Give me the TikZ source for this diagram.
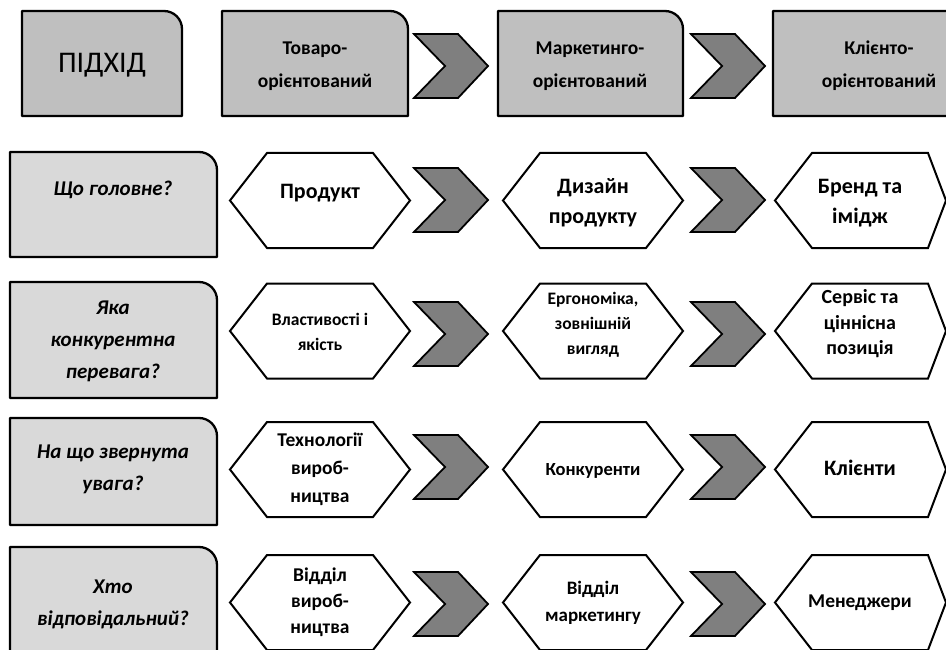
\documentclass[tikz,border=0pt]{standalone}
\usepackage{fontspec}
\setmainfont{Carlito}
\definecolor{headgray}{HTML}{BFBFBF}
\definecolor{askgray}{HTML}{D9D9D9}
\definecolor{chevgray}{HTML}{7F7F7F}

\begin{document}
\begin{tikzpicture}[x=1pt, y=1pt,
    titletxt/.style={font=\fontsize{30}{34}\selectfont},
    headtxt/.style={font=\fontsize{19.5}{33}\selectfont\bfseries, align=center},
    asktxt/.style={font=\fontsize{21}{32}\selectfont\bfseries\itshape, align=center},
    hexbig/.style={font=\fontsize{22}{30}\selectfont\bfseries, align=center},
    hextxt/.style={font=\fontsize{19.5}{28}\selectfont\bfseries, align=center},
    hexsmall/.style={font=\fontsize{17.5}{25}\selectfont\bfseries, align=center},
    tabline/.style={draw=black, line width=2.3pt, line join=round},
    hexline/.style={draw=black, line width=2pt, fill=white, line join=miter},
    chev/.style={draw=black, line width=1.8pt, fill=chevgray, line join=miter},
  ]
  \useasboundingbox (0,-650) rectangle (946,0);

  % Tabs: header row and question column
  \foreach \xa/\xb/\ya/\yb/\c in {22/182/11/116/headgray, 222/408/11/116/headgray,
      498/683/11/116/headgray, 773/1001/11/116/headgray,
      10/217/152/257/askgray, 10/217/282/398/askgray,
      10/217/418/525/askgray, 10/217/547/654/askgray}
    \draw[tabline, fill=\c] (\xa,-\yb) -- (\xa,-\ya) -- ({\xb-18},-\ya)
      arc[start angle=90, end angle=0, radius=18pt] -- (\xb,-\yb) -- cycle;

  % Hexagons
  \foreach \y in {200.5,331,469.5,602.5}
    \foreach \xl/\xr/\s in {230/410/37, 503/683/37, 775/946/18}
      \draw[hexline] (\xl,-\y) -- ({\xl+37},{-\y+47.5}) -- ({\xr-\s},{-\y+47.5})
        -- (\xr,-\y) -- ({\xr-\s},{-\y-47.5}) -- ({\xl+37},{-\y-47.5}) -- cycle;

  % Chevrons
  \foreach \y in {66,200,334,467,604}
    \foreach \x in {414,691}
      \draw[chev] (\x,{-\y+32}) -- ++(44,0) -- ++(30,-32) -- ++(-30,-32)
        -- ++(-44,0) -- ++(31,32) -- cycle;

  % Header texts
  \node[titletxt] (appr) at (102,-65) {ПІДХІД};
  \node[headtxt] (goods) at (315,-66) {Товаро-\\орієнтований};
  \node[headtxt] (mkt) at (590,-66) {Маркетинго-\\орієнтований};
  \node[headtxt] (client) at (879,-66) {Клієнто-\\орієнтований};

  % Questions
  \node[asktxt] (q1) at (113,-190) {Що головне?};
  \node[asktxt] (q2) at (113,-341) {Яка\\конкурентна\\перевага?};
  \node[asktxt] (q3) at (113,-469) {На що звернута\\увага?};
  \node[asktxt] (q4) at (113,-604) {Хто\\відповідальний?};

  % Row: what matters
  \node[hexbig] (g1) at (320,-193) {Продукт};
  \node[hexbig] (m1) at (593,-203) {Дизайн\\продукту};
  \node[hexbig] (c1) at (860,-203) {Бренд та\\імідж};

  % Row: advantage
  \node[hexsmall] (g2) at (320,-332) {Властивості і\\якість};
  \node[hexsmall] (m2) at (593,-325) {Ергономіка,\\зовнішній\\вигляд};
  \node[hextxt, font=\fontsize{20}{25.5}\selectfont\bfseries] (c2) at (860,-324) {Сервіс та\\ціннісна\\позиція};

  % Row: attention
  \node[hextxt] (g3) at (320,-469) {Технології\\вироб-\\ництва};
  \node[hextxt, font=\fontsize{18.5}{28}\selectfont\bfseries] (m3) at (593,-471) {Конкуренти};
  \node[hexbig] (c3) at (860,-468) {Клієнти};

  % Row: responsible
  \node[hextxt, font=\fontsize{19.5}{26}\selectfont\bfseries] (g4) at (320,-602) {Відділ\\вироб-\\ництва};
  \node[hextxt, font=\fontsize{19}{27}\selectfont\bfseries] (m4) at (593,-603) {Відділ\\маркетингу};
  \node[hextxt] (c4) at (860,-603) {Менеджери};
\end{tikzpicture}
\end{document}
